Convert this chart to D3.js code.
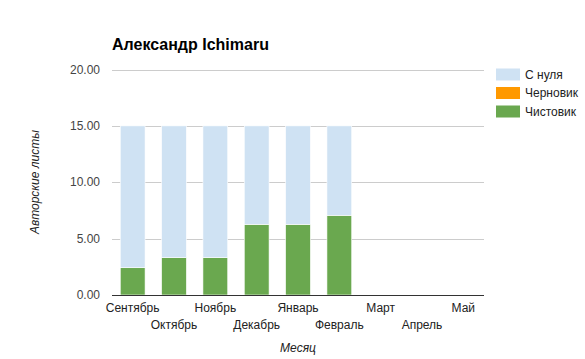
<!DOCTYPE html>
<html><head><meta charset="utf-8">
<script src="https://cdn.jsdelivr.net/npm/d3@7"></script>
<style>body{margin:0;background:#fff}svg{display:block;font-family:"Liberation Sans",Arial,sans-serif}</style>
</head><body><svg id="c" width="585" height="359"></svg>
<script>
const months = ["Сентябрь","Октябрь","Ноябрь","Декабрь","Январь","Февраль","Март","Апрель","Май"];
const chistovik = [2.42,3.31,3.31,6.27,6.27,7.07,0,0,0];
const chernovik = [0,0,0,0,0,0,0,0,0];
const sNulya = [12.58,11.69,11.69,8.73,8.73,7.93,0,0,0];
const yTicks = [0,5,10,15,20];
const seriesNames = ["С нуля","Черновик","Чистовик"];
const colors = {"С нуля":"#cfe2f3","Черновик":"#ff9900","Чистовик":"#6aa84f"};

const svg = d3.select("#c");
const L=112,R=484,T=69.5,B=295;
const x = d3.scaleBand().domain(months).range([L,R]).paddingInner(0.4).paddingOuter(0.2);
const y = d3.scaleLinear().domain([0,20]).range([B,T]);

svg.append("text").attr("x",112).attr("y",50).attr("font-size",16).attr("font-weight","bold").attr("fill","#000").text("Александр Ichimaru");

const g = svg.append("g");
g.selectAll("line.grid").data(yTicks.filter(d=>d>0)).join("line")
 .attr("x1",L).attr("x2",R).attr("y1",d=>Math.round(y(d))+0.5).attr("y2",d=>Math.round(y(d))+0.5)
 .attr("stroke","#cccccc");

const rows = months.map((m,i)=>({m, "Чистовик":chistovik[i], "Черновик":chernovik[i], "С нуля":sNulya[i]}));
const stack = d3.stack().keys(["Чистовик","Черновик","С нуля"])(rows);
g.selectAll("g.s").data(stack).join("g").attr("fill",d=>colors[d.key])
 .selectAll("rect").data(d=>d).join("rect")
 .attr("x",d=>x(d.data.m)).attr("width",x.bandwidth())
 .attr("y",d=>y(d[1])).attr("height",d=>Math.max(0,y(d[0])-y(d[1])))
 .attr("stroke",(d)=> (d[1]-d[0])>0?"#fff":"none").attr("stroke-width",0.6);

g.append("line").attr("x1",L).attr("x2",R).attr("y1",B+0.5).attr("y2",B+0.5).attr("stroke","#333");

g.selectAll("text.yl").data(yTicks).join("text")
 .attr("x",100).attr("y",d=>y(d)+4).attr("text-anchor","end").attr("font-size",12).attr("fill","#444")
 .text(d=>d3.format(".2f")(d));

g.selectAll("text.xl").data(months).join("text")
 .attr("x",d=>x(d)+x.bandwidth()/2).attr("y",(d,i)=>i%2===0?312:329)
 .attr("text-anchor","middle").attr("font-size",12).attr("fill","#222").text(d=>d);

svg.append("text").attr("x",298).attr("y",352).attr("text-anchor","middle").attr("font-size",12)
 .attr("font-style","italic").attr("fill","#222").text("Месяц");
svg.append("text").attr("transform","translate(39,182) rotate(-90)").attr("text-anchor","middle")
 .attr("font-size",12).attr("font-style","italic").attr("fill","#222").text("Авторские листы");

const lg = svg.append("g");
seriesNames.forEach((s,i)=>{
  const yy = 68.5 + i*18.5;
  lg.append("rect").attr("x",496).attr("y",yy).attr("width",24).attr("height",12).attr("fill",colors[s]);
  lg.append("text").attr("x",525).attr("y",yy+10).attr("font-size",12).attr("fill","#222").text(s);
});
</script></body></html>
